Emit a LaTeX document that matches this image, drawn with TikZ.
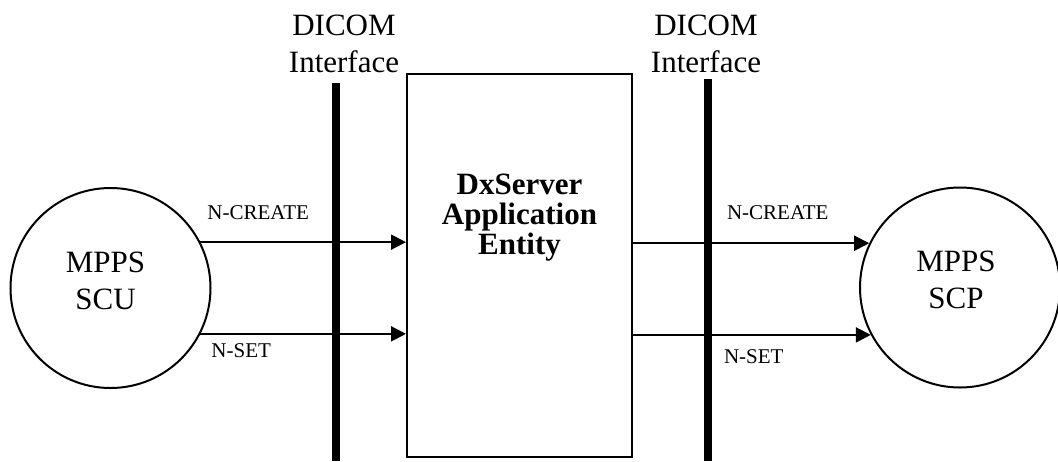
\documentclass[tikz,border=0pt]{standalone}
\usepackage{fontspec}
\setmainfont{Liberation Serif}
\usetikzlibrary{arrows.meta,positioning}

\begin{document}
\begin{tikzpicture}[x=0.5pt,y=-0.5pt,
    party/.style={draw, circle, line width=1pt, minimum size=100pt, inner sep=0pt},
    partytext/.style={inner sep=0pt, align=center, font=\fontsize{15.5}{18.5}\selectfont},
    aebox/.style={draw, line width=1pt, minimum width=112.5pt, minimum height=191.5pt, inner sep=0pt},
    aetitle/.style={inner sep=0pt, align=center, font=\fontsize{15.5}{15}\selectfont\bfseries},
    ifbar/.style={line width=3.8pt},
    iflabel/.style={inner sep=0pt, align=center, font=\fontsize{15.5}{18.5}\selectfont},
    msgarrow/.style={line width=1pt, -{Triangle[length=7.5pt,width=7.5pt]}},
    msg/.style={inner sep=0pt, font=\fontsize{10.5}{12}\selectfont}]
    \useasboundingbox (0,0) rectangle (1058,461);

    % the two MPPS peers and the application entity
    \node[party, label={[partytext, name=scutext, xshift=-2.5pt, yshift=3.75pt]center:MPPS\\SCU}] (scu) at (110.5,288) {};
    \node[party, label={[partytext, name=scptext, xshift=-2pt, yshift=4pt]center:MPPS\\SCP}] (scp) at (960,287.5) {};
    \node[aebox] (ae) at (519.5,265.5) {};
    \node[aetitle, below=50.5pt of ae.north] (aetitle) {DxServer\\Application\\Entity};

    % DICOM interfaces
    \coordinate (ifL) at (336,83);
    \coordinate (ifLend) at (336,461);
    \coordinate (ifR) at (708,79);
    \coordinate (ifRend) at (708,461);
    \draw[ifbar] (ifL) -- (ifLend);
    \draw[ifbar] (ifR) -- (ifRend);
    \node[iflabel, above=5pt of ifL, xshift=4pt] (ifLtext) {DICOM\\Interface};
    \node[iflabel, above=3pt of ifR, xshift=-1pt] (ifRtext) {DICOM\\Interface};

    % messages
    \draw[msgarrow] (scu.27) -- (scu.27 -| ae.west) node[msg, pos=0, above right=10.5pt and 3pt] (increate) {N-CREATE};
    \draw[msgarrow] (scu.-27) -- (scu.-27 -| ae.west) node[msg, pos=0, below right=4.5pt and 5pt] (inset) {N-SET};
    \draw[msgarrow] (scp.154 -| ae.east) -- (scp.154) node[msg, pos=0, above right=11.5pt and 46.5pt] (outcreate) {N-CREATE};
    \draw[msgarrow] (scp.208 -| ae.east) -- (scp.208) node[msg, pos=0, below right=7pt and 45pt] (outset) {N-SET};

\end{tikzpicture}
\end{document}
